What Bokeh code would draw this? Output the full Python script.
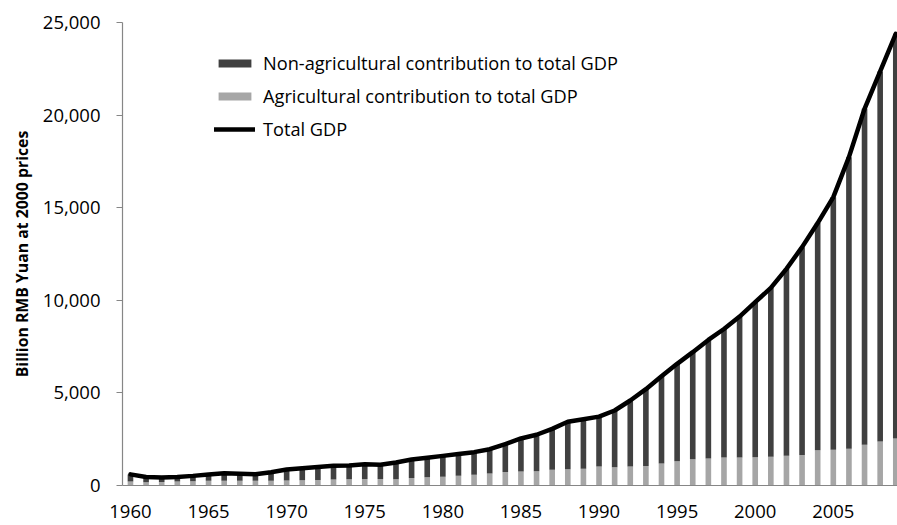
from bokeh.plotting import figure
from bokeh.models import ColumnDataSource, FixedTicker, NumeralTickFormatter, Legend, LegendItem, Range1d
from bokeh.embed import file_html
from bokeh.resources import INLINE

years = list(range(1960, 2010))
total_gdp = [600, 460, 430, 460, 520, 600, 660, 630, 610, 720,
             860, 930, 1000, 1060, 1080, 1150, 1120, 1240, 1400, 1500,
             1600, 1700, 1800, 1960, 2240, 2540, 2740, 3060, 3440, 3580,
             3720, 4050, 4590, 5200, 5900, 6570, 7200, 7860, 8450, 9120,
             9900, 10670, 11700, 12870, 14170, 15570, 17730, 20340, 22360, 24390]
agri_gdp = [220, 180, 190, 210, 230, 250, 260, 260, 250, 250,
            270, 280, 300, 330, 340, 350, 350, 340, 400, 450,
            470, 520, 580, 650, 730, 760, 770, 850, 880, 900,
            1030, 990, 1030, 1050, 1190, 1310, 1420, 1460, 1510, 1510,
            1520, 1550, 1600, 1650, 1910, 1930, 1980, 2200, 2380, 2540]
nonagri_gdp = [t - a for t, a in zip(total_gdp, agri_gdp)]
x_ticks = [1960, 1965, 1970, 1975, 1980, 1985, 1990, 1995, 2000, 2005]
y_ticks = [0, 5000, 10000, 15000, 20000, 25000]

FONT = "Open Sans"

src = ColumnDataSource(dict(year=years, total=total_gdp, agri=agri_gdp, nonagri=nonagri_gdp))

p = figure(width=897, height=525, output_backend="svg", toolbar_location=None,
           x_range=Range1d(1959.49, 2009.11), y_range=Range1d(0, 25000),
           min_border_left=122, min_border_right=0, min_border_top=22, min_border_bottom=40)
p.outline_line_color = None
p.xgrid.visible = False
p.ygrid.visible = False
p.background_fill_color = "white"

bars = p.vbar_stack(["agri", "nonagri"], x="year", width=0.36, source=src,
                    color=["#a6a6a6", "#404040"], line_color=None)
line = p.line("year", "total", source=src, line_color="black", line_width=4.5,
              line_join="round", line_cap="round")

# axes
for ax in (p.xaxis[0], p.yaxis[0]):
    ax.axis_line_color = "#868686"
    ax.axis_line_width = 1.2
    ax.major_label_text_font = FONT
    ax.major_label_text_font_size = "18.5px"
    ax.major_label_text_color = "black"
    ax.minor_tick_line_color = None

p.xaxis.ticker = FixedTicker(ticks=x_ticks)
p.xaxis.major_tick_line_color = None
p.xaxis.major_label_standoff = 13

p.yaxis.ticker = FixedTicker(ticks=y_ticks)
p.yaxis.formatter = NumeralTickFormatter(format="0,0")
p.yaxis.major_tick_line_color = "#868686"
p.yaxis.major_tick_out = 6
p.yaxis.major_tick_in = 0
p.yaxis.major_label_standoff = 16
p.yaxis.axis_label = "Billion RMB Yuan at 2000 prices"
p.yaxis.axis_label_text_font = FONT
p.yaxis.axis_label_text_font_style = "bold"
p.yaxis.axis_label_text_font_size = "15.8px"
p.yaxis.axis_label_text_color = "black"
p.yaxis.axis_label_standoff = 7

legend = Legend(items=[
    LegendItem(label="Non-agricultural contribution to total GDP", renderers=[bars[1]]),
    LegendItem(label="Agricultural contribution to total GDP", renderers=[bars[0]]),
    LegendItem(label="Total GDP", renderers=[line]),
], location=(92, 344))
legend.glyph_width = 41
legend.glyph_height = 10
legend.label_height = 20
legend.label_standoff = 8
legend.spacing = 9
legend.padding = 0
legend.margin = 0
legend.border_line_color = None
legend.background_fill_alpha = 0
legend.label_text_font = FONT
legend.label_text_font_size = "18.2px"
legend.label_text_color = "black"
p.add_layout(legend)

open("out.html", "w").write(file_html(p, INLINE))
